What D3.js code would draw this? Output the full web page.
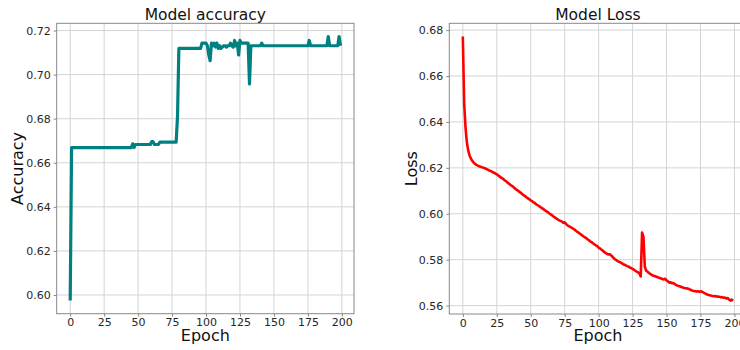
<!DOCTYPE html>
<html>
<head>
<meta charset="utf-8">
<script src="https://cdn.jsdelivr.net/npm/d3@7"></script>
<style>
  body { margin: 0; background: #fff; }
  svg { font-family: "DejaVu Sans", sans-serif; }
</style>
</head>
<body>
<div id="chart"></div>
<script>
// accuracy per epoch
const accuracy = [
  0.5975, 0.6669, 0.6669, 0.6669, 0.6669, 0.6669, 0.6669, 0.6669, 0.6669, 0.6669,
  0.6669, 0.6669, 0.6669, 0.6669, 0.6669, 0.6669, 0.6669, 0.6669, 0.6669, 0.6669,
  0.6669, 0.6669, 0.6669, 0.6669, 0.6669, 0.6669, 0.6669, 0.6669, 0.6669, 0.6669,
  0.6669, 0.6669, 0.6669, 0.6669, 0.6669, 0.6669, 0.6669, 0.6669, 0.6669, 0.6669,
  0.6669, 0.6669, 0.6669, 0.6669, 0.6669, 0.6669, 0.6686, 0.6669, 0.6683, 0.6683,
  0.6683, 0.6683, 0.6683, 0.6683, 0.6683, 0.6683, 0.6683, 0.6683, 0.6683, 0.6683,
  0.6696, 0.6696, 0.6683, 0.6683, 0.6683, 0.6683, 0.6694, 0.6694, 0.6694, 0.6694,
  0.6694, 0.6694, 0.6694, 0.6694, 0.6694, 0.6694, 0.6694, 0.6694, 0.6694, 0.6810,
  0.7119, 0.7119, 0.7119, 0.7119, 0.7119, 0.7119, 0.7119, 0.7119, 0.7119, 0.7119,
  0.7119, 0.7119, 0.7119, 0.7119, 0.7119, 0.7119, 0.7119, 0.7143, 0.7143, 0.7143,
  0.7143, 0.7131, 0.7090, 0.7063, 0.7143, 0.7131, 0.7143, 0.7125, 0.7143, 0.7119,
  0.7131, 0.7119, 0.7125, 0.7131, 0.7131, 0.7125, 0.7131, 0.7131, 0.7143, 0.7131,
  0.7125, 0.7155, 0.7131, 0.7143, 0.7089, 0.7155, 0.7143, 0.7143, 0.7143, 0.7143,
  0.7143, 0.7143, 0.6958, 0.7131, 0.7131, 0.7131, 0.7131, 0.7131, 0.7131, 0.7131,
  0.7131, 0.7143, 0.7131, 0.7131, 0.7131, 0.7131, 0.7131, 0.7131, 0.7131, 0.7131,
  0.7131, 0.7131, 0.7131, 0.7131, 0.7131, 0.7131, 0.7131, 0.7131, 0.7131, 0.7131,
  0.7131, 0.7131, 0.7131, 0.7131, 0.7131, 0.7131, 0.7131, 0.7131, 0.7131, 0.7131,
  0.7131, 0.7131, 0.7131, 0.7131, 0.7131, 0.7131, 0.7155, 0.7131, 0.7131, 0.7131,
  0.7131, 0.7131, 0.7131, 0.7131, 0.7131, 0.7131, 0.7131, 0.7131, 0.7131, 0.7131,
  0.7173, 0.7131, 0.7131, 0.7131, 0.7131, 0.7131, 0.7131, 0.7131, 0.7173, 0.7131
];

// loss per epoch
const loss = [
  0.6772, 0.6480, 0.6375, 0.6310, 0.6275, 0.6253, 0.6240, 0.6230, 0.6223, 0.6217,
  0.6213, 0.6210, 0.6207, 0.6205, 0.6203, 0.6201, 0.6199, 0.6196, 0.6193, 0.6190,
  0.6187, 0.6185, 0.6181, 0.6179, 0.6175, 0.6172, 0.6167, 0.6163, 0.6158, 0.6155,
  0.6150, 0.6145, 0.6141, 0.6135, 0.6131, 0.6126, 0.6122, 0.6118, 0.6112, 0.6107,
  0.6103, 0.6099, 0.6094, 0.6090, 0.6084, 0.6080, 0.6076, 0.6071, 0.6067, 0.6063,
  0.6058, 0.6055, 0.6050, 0.6047, 0.6041, 0.6038, 0.6034, 0.6030, 0.6025, 0.6022,
  0.6017, 0.6013, 0.6009, 0.6005, 0.6000, 0.5996, 0.5992, 0.5987, 0.5983, 0.5979,
  0.5975, 0.5971, 0.5969, 0.5966, 0.5960, 0.5963, 0.5955, 0.5950, 0.5946, 0.5943,
  0.5940, 0.5936, 0.5932, 0.5928, 0.5922, 0.5919, 0.5914, 0.5910, 0.5905, 0.5901,
  0.5897, 0.5893, 0.5888, 0.5884, 0.5879, 0.5876, 0.5871, 0.5866, 0.5862, 0.5859,
  0.5852, 0.5849, 0.5844, 0.5840, 0.5834, 0.5830, 0.5826, 0.5823, 0.5824, 0.5820,
  0.5814, 0.5808, 0.5802, 0.5798, 0.5794, 0.5791, 0.5788, 0.5785, 0.5781, 0.5778,
  0.5775, 0.5772, 0.5770, 0.5766, 0.5763, 0.5760, 0.5756, 0.5752, 0.5748, 0.5745,
  0.5740, 0.5727, 0.5918, 0.5900, 0.5770, 0.5752, 0.5748, 0.5742, 0.5738, 0.5734,
  0.5731, 0.5729, 0.5727, 0.5725, 0.5722, 0.5720, 0.5718, 0.5716, 0.5714, 0.5717,
  0.5710, 0.5706, 0.5700, 0.5702, 0.5697, 0.5698, 0.5694, 0.5690, 0.5687, 0.5685,
  0.5683, 0.5681, 0.5679, 0.5677, 0.5676, 0.5675, 0.5673, 0.5671, 0.5668, 0.5665,
  0.5664, 0.5663, 0.5661, 0.5663, 0.5660, 0.5662, 0.5661, 0.5658, 0.5654, 0.5651,
  0.5648, 0.5646, 0.5645, 0.5643, 0.5642, 0.5641, 0.5642, 0.5639, 0.5640, 0.5638,
  0.5636, 0.5637, 0.5634, 0.5635, 0.5631, 0.5633, 0.5627, 0.5622, 0.5626, 0.5621
];

const xTicks = [0, 25, 50, 75, 100, 125, 150, 175, 200];
const accTicks = [0.60, 0.62, 0.64, 0.66, 0.68, 0.70, 0.72];
const lossTicks = [0.56, 0.58, 0.60, 0.62, 0.64, 0.66, 0.68];

const width = 740, height = 350;

const svg = d3.select("#chart").append("svg")
  .attr("width", width)
  .attr("height", height);

function drawPanel(opts) {
  const { left, right, top, bottom, values, yTicks, color, lineWidth, title, yLabel, yLabelX } = opts;

  // matplotlib style 5% margins around the data
  const n = values.length - 1;
  const xPad = n * 0.05;
  const yMin = d3.min(values), yMax = d3.max(values);
  const yPad = (yMax - yMin) * 0.05;

  const x = d3.scaleLinear().domain([-xPad, n + xPad]).range([left, right]);
  const y = d3.scaleLinear().domain([yMin - yPad, yMax + yPad]).range([bottom, top]);

  const g = svg.append("g");

  // grid
  g.append("g").selectAll("line").data(xTicks).enter().append("line")
    .attr("x1", d => x(d)).attr("x2", d => x(d))
    .attr("y1", top).attr("y2", bottom)
    .attr("stroke", "#d4d4d4").attr("stroke-width", 1);
  g.append("g").selectAll("line").data(yTicks).enter().append("line")
    .attr("x1", left).attr("x2", right)
    .attr("y1", d => y(d)).attr("y2", d => y(d))
    .attr("stroke", "#d4d4d4").attr("stroke-width", 1);

  // line
  const line = d3.line().x((d, i) => x(i)).y(d => y(d));
  g.append("path")
    .datum(values)
    .attr("d", line)
    .attr("fill", "none")
    .attr("stroke", color)
    .attr("stroke-width", lineWidth)
    .attr("stroke-linejoin", "round");

  // axes
  const xAxis = g.append("g")
    .attr("transform", `translate(0,${bottom})`)
    .call(d3.axisBottom(x).tickValues(xTicks).tickSize(3).tickPadding(2).tickFormat(d3.format("d")));
  const yAxis = g.append("g")
    .attr("transform", `translate(${left},0)`)
    .call(d3.axisLeft(y).tickValues(yTicks).tickSize(3).tickPadding(3).tickFormat(d3.format(".2f")));

  [xAxis, yAxis].forEach(a => {
    a.select(".domain").remove();
    a.selectAll("line").attr("stroke", "#888");
    a.selectAll("text")
      .attr("fill", "#262626")
      .style("font-size", "11px")
      .style("font-family", "DejaVu Sans, sans-serif");
  });

  // frame
  g.append("rect")
    .attr("x", left).attr("y", top)
    .attr("width", right - left).attr("height", bottom - top)
    .attr("fill", "none").attr("stroke", "#888").attr("stroke-width", 1);

  // title and labels
  g.append("text")
    .attr("x", (left + right) / 2).attr("y", 20)
    .attr("text-anchor", "middle")
    .attr("fill", "#111")
    .style("font-size", "15.5px")
    .text(title);
  g.append("text")
    .attr("x", (left + right) / 2).attr("y", 341)
    .attr("text-anchor", "middle")
    .attr("fill", "#111")
    .style("font-size", "16px")
    .text("Epoch");
  g.append("text")
    .attr("transform", `translate(${yLabelX},${(top + bottom) / 2}) rotate(-90)`)
    .attr("text-anchor", "middle")
    .attr("fill", "#111")
    .style("font-size", "16px")
    .text(yLabel);
}

drawPanel({
  left: 56.7, right: 354, top: 23.3, bottom: 313.7,
  values: accuracy, yTicks: accTicks, color: "#008080", lineWidth: 3.2,
  title: "Model accuracy", yLabel: "Accuracy", yLabelX: 23
});

drawPanel({
  left: 449.3, right: 746.6, top: 23.3, bottom: 314,
  values: loss, yTicks: lossTicks, color: "#ff0000", lineWidth: 2.6,
  title: "Model Loss", yLabel: "Loss", yLabelX: 417
});
</script>
</body>
</html>
